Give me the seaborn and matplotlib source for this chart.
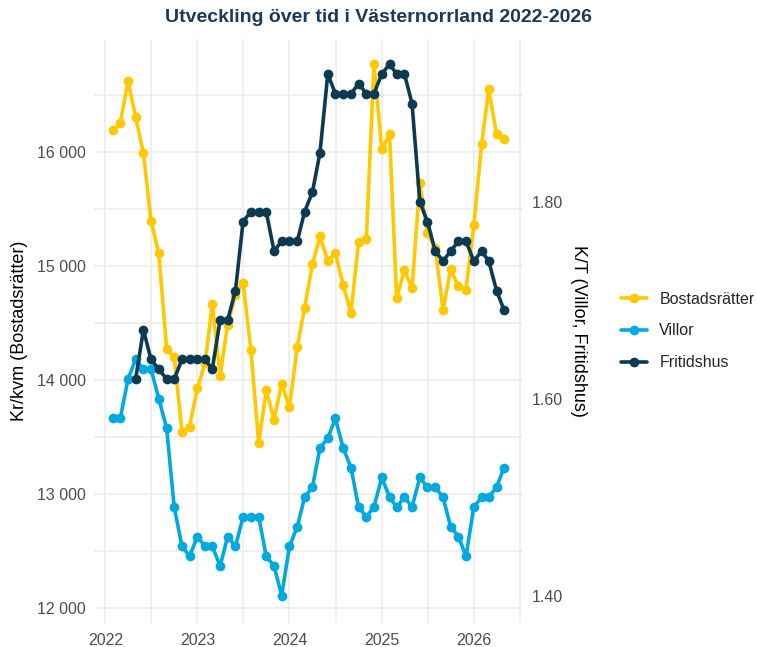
import numpy as np
import pandas as pd
import matplotlib.pyplot as plt
import matplotlib.dates as mdates
from matplotlib.ticker import FuncFormatter, MultipleLocator
import seaborn as sns

# monthly data, Feb 2022 - May 2026
months = pd.date_range("2022-02-01", "2026-05-01", freq="MS")

# kr/kvm
bostadsratter = [16196, 16255, 16627, 16310, 15991, 15399, 15111, 14272, 14202, 13542,
                 13590, 13929, 14150, 14671, 14037, 14486, 14750, 14853, 14266, 13445,
                 13908, 13650, 13967, 13758, 14290, 14633, 15014, 15263, 15043, 15117,
                 14832, 14589, 15210, 15240, 16774, 16026, 16158, 14721, 14964, 14803,
                 15727, 15293, 15161, 14612, 14970, 14823, 14794, 15357, 16070, 16554,
                 16158, 16114]

# K/T
villor = [1.58, 1.58, 1.62, 1.64, 1.63, 1.63, 1.60, 1.57, 1.49, 1.45,
          1.44, 1.46, 1.45, 1.45, 1.43, 1.46, 1.45, 1.48, 1.48, 1.48,
          1.44, 1.43, 1.40, 1.45, 1.47, 1.50, 1.51, 1.55, 1.56, 1.58,
          1.55, 1.53, 1.49, 1.48, 1.49, 1.52, 1.50, 1.49, 1.50, 1.49,
          1.52, 1.51, 1.51, 1.50, 1.47, 1.46, 1.44, 1.49, 1.50, 1.50,
          1.51, 1.53]

# K/T, series starts May 2022
fritidshus = [1.62, 1.67, 1.64, 1.63, 1.62, 1.62, 1.64, 1.64, 1.64, 1.64,
              1.63, 1.68, 1.68, 1.71, 1.78, 1.79, 1.79, 1.79, 1.75, 1.76,
              1.76, 1.76, 1.79, 1.81, 1.85, 1.93, 1.91, 1.91, 1.91, 1.92,
              1.91, 1.91, 1.93, 1.94, 1.93, 1.93, 1.90, 1.80, 1.78, 1.75,
              1.74, 1.75, 1.76, 1.76, 1.74, 1.75, 1.74, 1.71, 1.69]

serier = ["Bostadsrätter", "Villor", "Fritidshus"]
farger = {"Bostadsrätter": "#FFC800", "Villor": "#00A9DF", "Fritidshus": "#0B3A52"}

# scale K/T onto the kr/kvm axis
skala = max(bostadsratter) / max(fritidshus)

df = pd.concat([
    pd.DataFrame({"datum": months, "varde": bostadsratter, "serie": "Bostadsrätter"}),
    pd.DataFrame({"datum": months, "varde": np.array(villor) * skala, "serie": "Villor"}),
    pd.DataFrame({"datum": months[3:], "varde": np.array(fritidshus) * skala, "serie": "Fritidshus"}),
], ignore_index=True)

sns.set_theme(style="whitegrid")
plt.rcParams['font.family'] = ['Liberation Sans', 'DejaVu Sans']

fig = plt.figure(figsize=(7.57, 6.47), dpi=100)
ax = fig.add_axes([94/757, 1-623/647, (523-94)/757, (623-39)/647])

sns.lineplot(data=df, x="datum", y="varde", hue="serie", style="serie",
             hue_order=serier, style_order=serier, palette=farger,
             markers={s: "o" for s in serier}, dashes=False,
             linewidth=2.6, markersize=7, markeredgewidth=0, ax=ax)

ax.set_ylim(11864, 16995)
ax.set_xlim(pd.Timestamp("2021-11-17"), pd.Timestamp("2026-07-15"))

ax.xaxis.set_major_locator(mdates.YearLocator())
ax.xaxis.set_major_formatter(mdates.DateFormatter("%Y"))
ax.xaxis.set_minor_locator(mdates.MonthLocator(bymonth=7, bymonthday=2))
ax.yaxis.set_major_locator(MultipleLocator(1000))
ax.yaxis.set_minor_locator(MultipleLocator(500))
ax.yaxis.set_major_formatter(FuncFormatter(lambda v, p: f"{int(v):,}".replace(",", " ")))

ax.grid(which="both", color="#EBEBEB", linewidth=1.1)
ax.tick_params(which="both", length=0, labelsize=11.5, labelcolor="#4D4D4D")
ax.tick_params(axis="x", pad=7)
ax.tick_params(axis="y", pad=6)
for s in ax.spines.values():
    s.set_visible(False)

ax.set_xlabel("")
ax.set_ylabel("Kr/kvm (Bostadsrätter)", fontsize=13, color="black", labelpad=6)

sec = ax.secondary_yaxis("right", functions=(lambda v: v / skala, lambda v: v * skala))
sec.set_yticks([1.4, 1.6, 1.8])
sec.yaxis.set_major_formatter(FuncFormatter(lambda v, p: f"{v:.2f}"))
sec.tick_params(length=0, labelsize=11.5, labelcolor="#4D4D4D", pad=6)
sec.spines["right"].set_visible(False)
sec.set_ylabel("K/T (Villor, Fritidshus)", fontsize=13, color="black",
               rotation=270, va="bottom", labelpad=5)

handles, labels = ax.get_legend_handles_labels()
ax.legend(handles, labels, loc="center left", bbox_to_anchor=(621/757, 1-331/647),
          bbox_transform=fig.transFigure, frameon=False, fontsize=11.5,
          handlelength=1.6, handletextpad=0.8, labelspacing=1.05,
          borderpad=0, borderaxespad=0)

fig.suptitle("Utveckling över tid i Västernorrland 2022-2026", x=0.5, y=1-18/647,
             va="center", fontsize=14, fontweight="bold", color="#1B3A57")

fig.savefig("out.png", dpi=100)
